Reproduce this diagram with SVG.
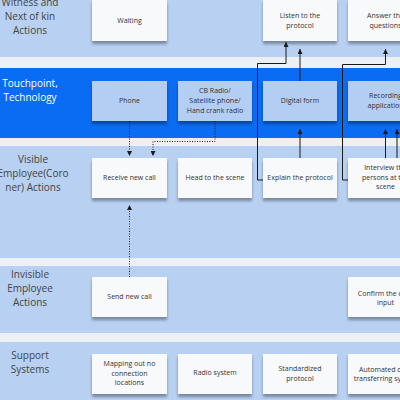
<svg xmlns="http://www.w3.org/2000/svg" width="400" height="400" viewBox="0 0 400 400">
<defs>
<style>
.lane{fill:#b8d0f2}
.gap{fill:#eceff3}
.card{fill:#f8f9fb;filter:url(#sh)}
.tcard{fill:#b4cdf3;filter:url(#sh)}
.ct{font-family:"Open Sans","DejaVu Sans",sans-serif;font-size:7px;fill:#333;text-anchor:middle;dominant-baseline:central}
.lt{font-family:"Open Sans","DejaVu Sans",sans-serif;font-size:10px;fill:#444;text-anchor:middle;dominant-baseline:central}
.lw{fill:#fff}
.sl{fill:none;stroke:#1a1a1a;stroke-width:1}
.dl{fill:none;stroke:#1a1a1a;stroke-width:1;stroke-dasharray:1 1.5}
</style>
<filter id="sh" x="-10%" y="-10%" width="120%" height="140%">
<feDropShadow dx="0" dy="3" stdDeviation="1.5" flood-color="#000" flood-opacity="0.35"/>
</filter>
<marker id="ah" viewBox="0 0 10 10" refX="10" refY="5" markerWidth="5" markerHeight="5" orient="auto" markerUnits="userSpaceOnUse">
<path d="M0,0 L10,5 L0,10 z" fill="#1a1a1a"/>
</marker>
</defs>
<rect x="0" y="0" width="400" height="400" class="gap"/>
<g id="lanes">
<rect x="0" y="0" width="400" height="57" class="lane"/>
<rect x="0" y="68" width="400" height="70" fill="#0a6cf2"/>
<rect x="0" y="146" width="400" height="112" class="lane"/>
<rect x="0" y="266" width="400" height="67" class="lane"/>
<rect x="0" y="342" width="400" height="58" class="lane"/>
</g>
<g id="lane-labels">
<text class="lt"><tspan x="30" y="2">Witness and</tspan><tspan x="30" y="16">Next of kin</tspan><tspan x="30" y="30">Actions</tspan></text>
<text class="lt lw"><tspan x="30" y="83">Touchpoint,</tspan><tspan x="30" y="97">Technology</tspan></text>
<text class="lt"><tspan x="33" y="159">Visible</tspan><tspan x="33" y="173">Employee(Coro</tspan><tspan x="33" y="187">ner) Actions</tspan></text>
<text class="lt"><tspan x="30" y="274">Invisible</tspan><tspan x="30" y="288">Employee</tspan><tspan x="30" y="302">Actions</tspan></text>
<text class="lt"><tspan x="30" y="355">Support</tspan><tspan x="30" y="369">Systems</tspan></text>
</g>
<g id="n-waiting"><rect x="92" y="0" width="75" height="41" class="card"/><text class="ct" x="129.5" y="20">Waiting</text></g>
<g id="n-listen"><rect x="263" y="0" width="74" height="41" class="card"/><text class="ct"><tspan x="300" y="15">Listen to the</tspan><tspan x="300" y="25">protocol</tspan></text></g>
<g id="n-answer"><rect x="348" y="0" width="75" height="41" class="card"/><text class="ct"><tspan x="385.5" y="15">Answer the</tspan><tspan x="385.5" y="25">questions</tspan></text></g>
<g id="n-phone"><rect x="92" y="81" width="75" height="40" class="tcard"/><text class="ct" x="129.5" y="100">Phone</text></g>
<g id="n-cbradio"><rect x="178" y="81" width="74" height="40" class="tcard"/><text class="ct"><tspan x="215" y="90">CB Radio/</tspan><tspan x="215" y="100">Satellite phone/</tspan><tspan x="215" y="109.5">Hand crank radio</tspan></text></g>
<g id="n-digital"><rect x="263" y="81" width="74" height="40" class="tcard"/><text class="ct" x="300" y="100">Digital form</text></g>
<g id="n-recording"><rect x="348" y="81" width="75" height="40" class="tcard"/><text class="ct"><tspan x="385.5" y="95">Recording</tspan><tspan x="385.5" y="105">application</tspan></text></g>
<g id="n-receive"><rect x="92" y="158" width="75" height="40" class="card"/><text class="ct" x="129.5" y="177">Receive new call</text></g>
<g id="n-head"><rect x="178" y="158" width="74" height="40" class="card"/><text class="ct" x="215" y="177">Head to the scene</text></g>
<g id="n-explain"><rect x="263" y="158" width="74" height="40" class="card"/><text class="ct" x="300" y="177">Explain the protocol</text></g>
<g id="n-interview"><rect x="348" y="158" width="75" height="40" class="card"/><text class="ct"><tspan x="385.5" y="167">Interview the</tspan><tspan x="385.5" y="176.5">persons at the</tspan><tspan x="385.5" y="186">scene</tspan></text></g>
<g id="n-send"><rect x="92" y="277" width="75" height="40" class="card"/><text class="ct" x="129.5" y="296">Send new call</text></g>
<g id="n-confirm"><rect x="348" y="277" width="75" height="40" class="card"/><text class="ct"><tspan x="385.5" y="292.5">Confirm the data</tspan><tspan x="385.5" y="302">input</tspan></text></g>
<g id="n-mapping"><rect x="92" y="354" width="75" height="40" class="card"/><text class="ct"><tspan x="129.5" y="363">Mapping out no</tspan><tspan x="129.5" y="372.5">connection</tspan><tspan x="129.5" y="382">locations</tspan></text></g>
<g id="n-radiosys"><rect x="178" y="354" width="74" height="40" class="card"/><text class="ct" x="215" y="372.5">Radio system</text></g>
<g id="n-standard"><rect x="263" y="354" width="74" height="40" class="card"/><text class="ct"><tspan x="300" y="367.5">Standardized</tspan><tspan x="300" y="377.5">protocol</tspan></text></g>
<g id="n-automated"><rect x="348" y="354" width="75" height="40" class="card"/><text class="ct"><tspan x="385.5" y="368.5">Automated data</tspan><tspan x="385.5" y="378">transferring system</tspan></text></g>
<g id="connectors">
<path class="dl" d="M129.5,121 V156" marker-end="url(#ah)"/>
<path class="dl" d="M215,121 V141.5 H153 V156" marker-end="url(#ah)"/>
<path class="dl" d="M129.5,277 V205" marker-end="url(#ah)"/>
<path class="sl" d="M263,180 H257.5 V63.5 H286 V42" marker-end="url(#ah)"/>
<path class="sl" d="M300,81 V49" marker-end="url(#ah)"/>
<path class="sl" d="M300,158 V129" marker-end="url(#ah)"/>
<path class="sl" d="M348,180 H342.5 V64.5 H385.5 V49" marker-end="url(#ah)"/>
<path class="sl" d="M385.5,158 V129" marker-end="url(#ah)"/>
<path class="sl" d="M397,158 V129" marker-end="url(#ah)"/>
</g>
</svg>
